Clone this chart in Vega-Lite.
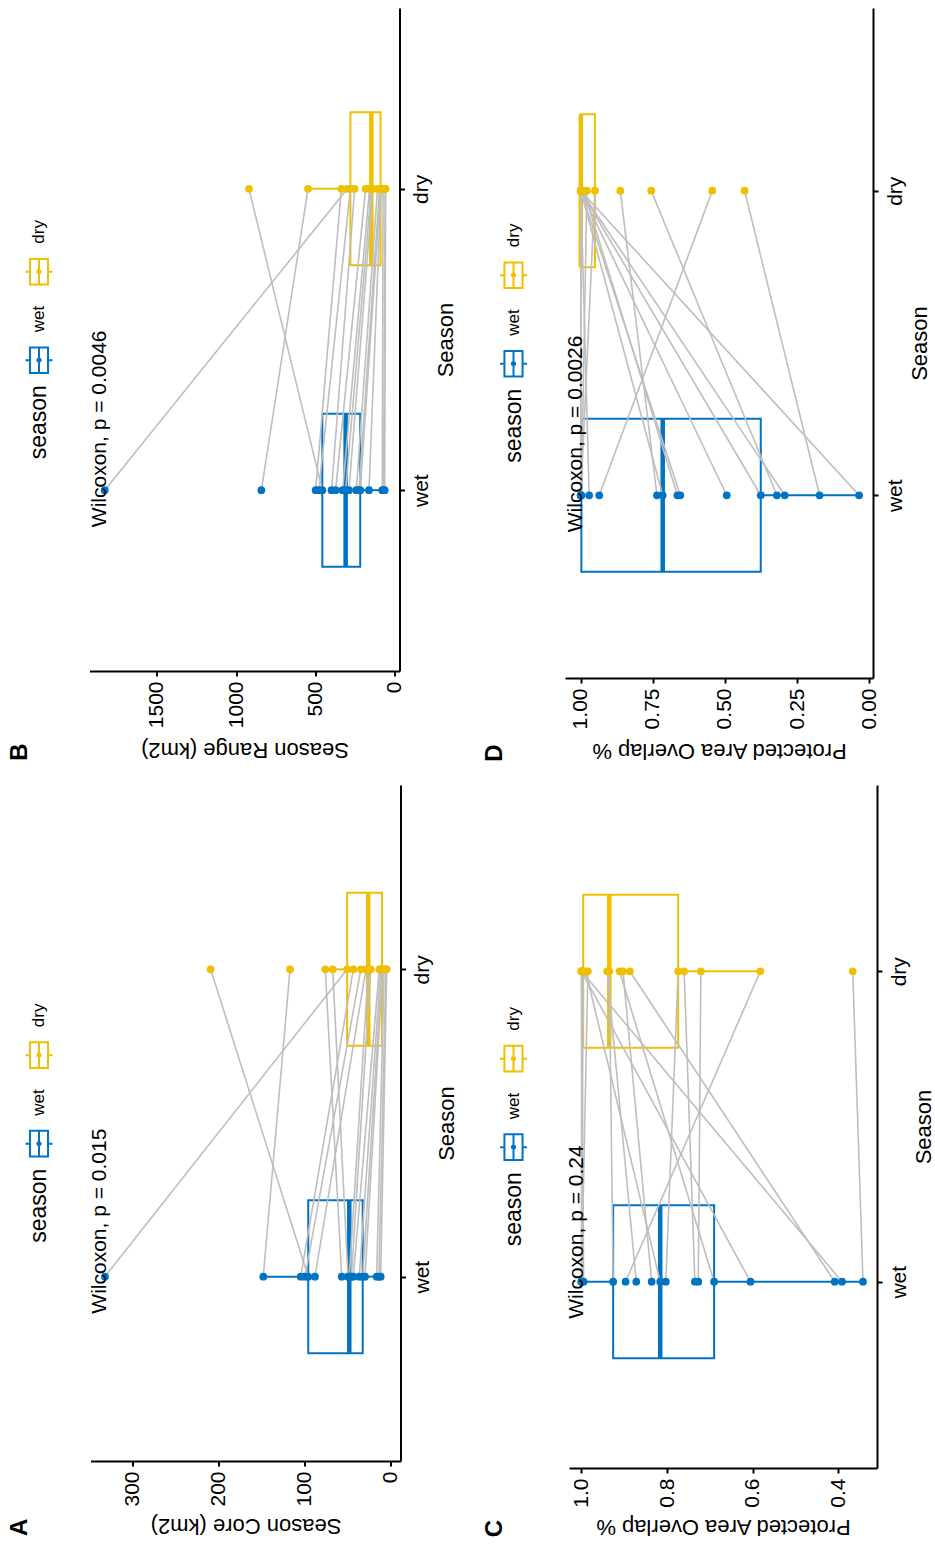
{
  "$schema": "https://vega.github.io/schema/vega-lite/v6.json",
  "background": "white",
  "padding": {"left": 7.5, "top": 8, "right": 0, "bottom": 0},
  "datasets": {
    "legend": [{"season": "dry"}, {"season": "wet"}],
    "legendTitle": [{"season": "wet", "title": "season"}],
    "A": [
      {"id": 1, "season": "wet", "value": 332.6}, {"id": 1, "season": "dry", "value": 51.0},
      {"id": 2, "season": "wet", "value": 148.5}, {"id": 2, "season": "dry", "value": 117.4},
      {"id": 3, "season": "wet", "value": 96.2}, {"id": 3, "season": "dry", "value": 209.7},
      {"id": 4, "season": "wet", "value": 57.3}, {"id": 4, "season": "dry", "value": 76.4},
      {"id": 5, "season": "wet", "value": 50.0}, {"id": 5, "season": "dry", "value": 67.8},
      {"id": 6, "season": "wet", "value": 105.0}, {"id": 6, "season": "dry", "value": 43.8},
      {"id": 7, "season": "wet", "value": 100.0}, {"id": 7, "season": "dry", "value": 35.0},
      {"id": 8, "season": "wet", "value": 88.4}, {"id": 8, "season": "dry", "value": 29.1},
      {"id": 9, "season": "wet", "value": 48.5}, {"id": 9, "season": "dry", "value": 26.4},
      {"id": 10, "season": "wet", "value": 46.0}, {"id": 10, "season": "dry", "value": 23.6},
      {"id": 11, "season": "wet", "value": 43.8}, {"id": 11, "season": "dry", "value": 13.6},
      {"id": 12, "season": "wet", "value": 36.9}, {"id": 12, "season": "dry", "value": 12.0},
      {"id": 13, "season": "wet", "value": 32.9}, {"id": 13, "season": "dry", "value": 10.5},
      {"id": 14, "season": "wet", "value": 30.2}, {"id": 14, "season": "dry", "value": 9.7},
      {"id": 15, "season": "wet", "value": 16.6}, {"id": 15, "season": "dry", "value": 8.0},
      {"id": 16, "season": "wet", "value": 14.0}, {"id": 16, "season": "dry", "value": 6.0},
      {"id": 17, "season": "wet", "value": 12.0}, {"id": 17, "season": "dry", "value": 5.0}
    ],
    "B": [
      {"id": 1, "season": "wet", "value": 1829}, {"id": 1, "season": "dry", "value": 300},
      {"id": 2, "season": "wet", "value": 842}, {"id": 2, "season": "dry", "value": 548},
      {"id": 3, "season": "wet", "value": 458}, {"id": 3, "season": "dry", "value": 920},
      {"id": 4, "season": "wet", "value": 500}, {"id": 4, "season": "dry", "value": 338},
      {"id": 5, "season": "wet", "value": 480}, {"id": 5, "season": "dry", "value": 281},
      {"id": 6, "season": "wet", "value": 400}, {"id": 6, "season": "dry", "value": 254},
      {"id": 7, "season": "wet", "value": 374}, {"id": 7, "season": "dry", "value": 185},
      {"id": 8, "season": "wet", "value": 330}, {"id": 8, "season": "dry", "value": 160},
      {"id": 9, "season": "wet", "value": 311}, {"id": 9, "season": "dry", "value": 149},
      {"id": 10, "season": "wet", "value": 290}, {"id": 10, "season": "dry", "value": 140},
      {"id": 11, "season": "wet", "value": 244}, {"id": 11, "season": "dry", "value": 110},
      {"id": 12, "season": "wet", "value": 227}, {"id": 12, "season": "dry", "value": 97},
      {"id": 13, "season": "wet", "value": 219}, {"id": 13, "season": "dry", "value": 91},
      {"id": 14, "season": "wet", "value": 164}, {"id": 14, "season": "dry", "value": 88},
      {"id": 15, "season": "wet", "value": 80}, {"id": 15, "season": "dry", "value": 75},
      {"id": 16, "season": "wet", "value": 72}, {"id": 16, "season": "dry", "value": 62},
      {"id": 17, "season": "wet", "value": 65}, {"id": 17, "season": "dry", "value": 59}
    ],
    "C": [
      {"id": 1, "season": "wet", "value": 0.342}, {"id": 1, "season": "dry", "value": 0.366},
      {"id": 2, "season": "wet", "value": 0.897}, {"id": 2, "season": "dry", "value": 0.582},
      {"id": 3, "season": "wet", "value": 0.727}, {"id": 3, "season": "dry", "value": 0.721},
      {"id": 4, "season": "wet", "value": 0.391}, {"id": 4, "season": "dry", "value": 1.0},
      {"id": 5, "season": "wet", "value": 0.408}, {"id": 5, "season": "dry", "value": 0.887},
      {"id": 6, "season": "wet", "value": 0.605}, {"id": 6, "season": "dry", "value": 1.0},
      {"id": 7, "season": "wet", "value": 0.735}, {"id": 7, "season": "dry", "value": 0.760},
      {"id": 8, "season": "wet", "value": 0.690}, {"id": 8, "season": "dry", "value": 0.911},
      {"id": 9, "season": "wet", "value": 0.803}, {"id": 9, "season": "dry", "value": 0.774},
      {"id": 10, "season": "wet", "value": 0.816}, {"id": 10, "season": "dry", "value": 0.990},
      {"id": 11, "season": "wet", "value": 0.836}, {"id": 11, "season": "dry", "value": 0.903},
      {"id": 12, "season": "wet", "value": 0.872}, {"id": 12, "season": "dry", "value": 0.940},
      {"id": 13, "season": "wet", "value": 0.926}, {"id": 13, "season": "dry", "value": 0.935},
      {"id": 14, "season": "wet", "value": 0.995}, {"id": 14, "season": "dry", "value": 1.0},
      {"id": 15, "season": "wet", "value": 1.0}, {"id": 15, "season": "dry", "value": 1.0},
      {"id": 16, "season": "wet", "value": 1.0}, {"id": 16, "season": "dry", "value": 0.985},
      {"id": 17, "season": "wet", "value": 1.0}, {"id": 17, "season": "dry", "value": 0.996}
    ],
    "D": [
      {"id": 1, "season": "wet", "value": 0.035}, {"id": 1, "season": "dry", "value": 1.0},
      {"id": 2, "season": "wet", "value": 0.172}, {"id": 2, "season": "dry", "value": 0.432},
      {"id": 3, "season": "wet", "value": 0.293}, {"id": 3, "season": "dry", "value": 1.0},
      {"id": 4, "season": "wet", "value": 0.320}, {"id": 4, "season": "dry", "value": 0.756},
      {"id": 5, "season": "wet", "value": 0.376}, {"id": 5, "season": "dry", "value": 1.0},
      {"id": 6, "season": "wet", "value": 0.494}, {"id": 6, "season": "dry", "value": 1.0},
      {"id": 7, "season": "wet", "value": 0.655}, {"id": 7, "season": "dry", "value": 1.0},
      {"id": 8, "season": "wet", "value": 0.665}, {"id": 8, "season": "dry", "value": 0.990},
      {"id": 9, "season": "wet", "value": 0.716}, {"id": 9, "season": "dry", "value": 1.0},
      {"id": 10, "season": "wet", "value": 0.736}, {"id": 10, "season": "dry", "value": 0.863},
      {"id": 11, "season": "wet", "value": 0.936}, {"id": 11, "season": "dry", "value": 0.544},
      {"id": 12, "season": "wet", "value": 0.971}, {"id": 12, "season": "dry", "value": 1.0},
      {"id": 13, "season": "wet", "value": 0.998}, {"id": 13, "season": "dry", "value": 0.979},
      {"id": 14, "season": "wet", "value": 1.0}, {"id": 14, "season": "dry", "value": 1.0},
      {"id": 15, "season": "wet", "value": 1.0}, {"id": 15, "season": "dry", "value": 0.951},
      {"id": 16, "season": "wet", "value": 1.0}, {"id": 16, "season": "dry", "value": 1.0},
      {"id": 17, "season": "wet", "value": 1.0}, {"id": 17, "season": "dry", "value": 1.0}
    ]
  },
  "columns": 2,
  "align": "each",
  "spacing": {"row": 23, "column": 24.5},
  "concat": [
    {
      "title": {"text": "B", "orient": "left", "anchor": "start", "frame": "bounds", "fontSize": 24, "fontWeight": "bold", "color": "black", "offset": -10.5},
      "spacing": 32,
      "hconcat": [
        {
          "width": 27, "height": 663,
          "layer": [
            {"data": {"name": "legend"}, "mark": {"type": "point", "shape": "M-1,0H-0.67M0.67,0H1M-0.67,-0.95H0.67V0.95H-0.67ZM0,-0.95V0.95M0.12,0A0.12,0.12,0,1,1,-0.12,0A0.12,0.12,0,1,1,0.12,0", "filled": false, "size": 729, "strokeWidth": 2, "opacity": 1},
              "encoding": {"y": {"field": "season", "type": "nominal", "scale": {"type": "point", "domain": ["dry", "wet"], "range": [263.7, 352.2], "padding": 0}, "axis": null},
                "stroke": {"field": "season", "type": "nominal", "scale": {"domain": ["dry", "wet"], "range": ["#EFC000", "#0073C2"]}, "legend": null}}},
            {"data": {"name": "legend"}, "mark": {"type": "text", "angle": 270, "align": "left", "baseline": "middle", "dx": 28, "fontSize": 17, "color": "black"},
              "encoding": {"y": {"field": "season", "type": "nominal", "axis": null}, "text": {"field": "season"}}},
            {"data": {"name": "legendTitle"}, "mark": {"type": "text", "angle": 270, "align": "right", "baseline": "middle", "dx": -25, "fontSize": 23, "color": "black"},
              "encoding": {"y": {"field": "season", "type": "nominal", "axis": null}, "text": {"field": "title"}}}
          ]
        },
        {
          "width": 310, "height": 663,
          "data": {"name": "B"},
          "encoding": {
            "x": {"field": "value", "type": "quantitative",
              "scale": {"domain": [-28.4, 1925], "reverse": true, "nice": false, "zero": false},
              "axis": {"orient": "bottom", "values": [0, 500, 1000, 1500], "format": "d", "labelAngle": 270, "labelAlign": "right", "labelBaseline": "middle", "labelPadding": 5, "title": "Season Range (km2)", "titleAngle": 180, "titleBaseline": "bottom", "titlePadding": 10}},
            "y": {"field": "season", "type": "nominal",
              "scale": {"type": "point", "domain": ["dry", "wet"], "padding": 0.6},
              "axis": {"orient": "right", "labelAngle": 270, "labelAlign": "center", "labelBaseline": "top", "labelPadding": 6, "title": "Season", "titleAngle": 270, "titleBaseline": "top", "titlePadding": 4}}
          },
          "layer": [
            {"transform": [{"filter": "datum.season === 'wet'"}], "mark": {"type": "boxplot", "extent": 1.5, "size": 153, "outliers": false, "box": {"fill": "transparent", "stroke": "#0073C2", "strokeWidth": 2}, "median": {"color": "#0073C2", "thickness": 4.5, "opacity": 1}, "rule": {"color": "#0073C2", "strokeWidth": 2}}},
            {"transform": [{"filter": "datum.season === 'dry'"}], "mark": {"type": "boxplot", "extent": 1.5, "size": 153, "outliers": false, "box": {"fill": "transparent", "stroke": "#EFC000", "strokeWidth": 2}, "median": {"color": "#EFC000", "thickness": 4.5, "opacity": 1}, "rule": {"color": "#EFC000", "strokeWidth": 2}}},
            {"mark": {"type": "line", "color": "#BEBEBE", "strokeWidth": 1.6}, "encoding": {"detail": {"field": "id", "type": "nominal"}}},
            {"mark": {"type": "point", "filled": true, "opacity": 1, "size": 60},
              "encoding": {"color": {"field": "season", "type": "nominal", "scale": {"domain": ["dry", "wet"], "range": ["#EFC000", "#0073C2"]}, "legend": null}}},
            {"data": {"values": [{"label": "Wilcoxon, p = 0.0046", "season": "wet", "value": 1829}]},
              "mark": {"type": "text", "angle": 270, "align": "left", "baseline": "alphabetic", "dx": -37, "dy": 1.5, "fontSize": 21, "color": "black"},
              "encoding": {"text": {"field": "label"}}}
          ]
        }
      ]
    },
    {
      "title": {"text": "D", "orient": "left", "anchor": "start", "frame": "bounds", "fontSize": 24, "fontWeight": "bold", "color": "black", "offset": -10.5},
      "spacing": 34,
      "hconcat": [
        {
          "width": 27, "height": 670,
          "layer": [
            {"data": {"name": "legend"}, "mark": {"type": "point", "shape": "M-1,0H-0.67M0.67,0H1M-0.67,-0.95H0.67V0.95H-0.67ZM0,-0.95V0.95M0.12,0A0.12,0.12,0,1,1,-0.12,0A0.12,0.12,0,1,1,0.12,0", "filled": false, "size": 729, "strokeWidth": 2, "opacity": 1},
              "encoding": {"y": {"field": "season", "type": "nominal", "scale": {"type": "point", "domain": ["dry", "wet"], "range": [267.2, 355.7], "padding": 0}, "axis": null},
                "stroke": {"field": "season", "type": "nominal", "scale": {"domain": ["dry", "wet"], "range": ["#EFC000", "#0073C2"]}, "legend": null}}},
            {"data": {"name": "legend"}, "mark": {"type": "text", "angle": 270, "align": "left", "baseline": "middle", "dx": 28, "fontSize": 17, "color": "black"},
              "encoding": {"y": {"field": "season", "type": "nominal", "axis": null}, "text": {"field": "season"}}},
            {"data": {"name": "legendTitle"}, "mark": {"type": "text", "angle": 270, "align": "right", "baseline": "middle", "dx": -25, "fontSize": 23, "color": "black"},
              "encoding": {"y": {"field": "season", "type": "nominal", "axis": null}, "text": {"field": "title"}}}
          ]
        },
        {
          "width": 308, "height": 670,
          "data": {"name": "D"},
          "encoding": {
            "x": {"field": "value", "type": "quantitative",
              "scale": {"domain": [-0.0132, 1.0548], "reverse": true, "nice": false, "zero": false},
              "axis": {"orient": "bottom", "values": [0, 0.25, 0.5, 0.75, 1.0], "format": ".2f", "labelAngle": 270, "labelAlign": "right", "labelBaseline": "middle", "labelPadding": 5, "title": "Protected Area Overlap %", "titleAngle": 180, "titleBaseline": "bottom", "titlePadding": 10}},
            "y": {"field": "season", "type": "nominal",
              "scale": {"type": "point", "domain": ["dry", "wet"], "padding": 0.6},
              "axis": {"orient": "right", "labelAngle": 270, "labelAlign": "center", "labelBaseline": "top", "labelPadding": 6, "title": "Season", "titleAngle": 270, "titleBaseline": "top", "titlePadding": 4}}
          },
          "layer": [
            {"transform": [{"filter": "datum.season === 'wet'"}], "mark": {"type": "boxplot", "extent": 1.5, "size": 153, "outliers": false, "box": {"fill": "transparent", "stroke": "#0073C2", "strokeWidth": 2}, "median": {"color": "#0073C2", "thickness": 4.5, "opacity": 1}, "rule": {"color": "#0073C2", "strokeWidth": 2}}},
            {"transform": [{"filter": "datum.season === 'dry'"}], "mark": {"type": "boxplot", "extent": 1.5, "size": 153, "outliers": false, "box": {"fill": "transparent", "stroke": "#EFC000", "strokeWidth": 2}, "median": {"color": "#EFC000", "thickness": 4.5, "opacity": 1}, "rule": {"color": "#EFC000", "strokeWidth": 2}}},
            {"mark": {"type": "line", "color": "#BEBEBE", "strokeWidth": 1.6}, "encoding": {"detail": {"field": "id", "type": "nominal"}}},
            {"mark": {"type": "point", "filled": true, "opacity": 1, "size": 60},
              "encoding": {"color": {"field": "season", "type": "nominal", "scale": {"domain": ["dry", "wet"], "range": ["#EFC000", "#0073C2"]}, "legend": null}}},
            {"data": {"values": [{"label": "Wilcoxon, p = 0.0026", "season": "wet", "value": 1.0}]},
              "mark": {"type": "text", "angle": 270, "align": "left", "baseline": "alphabetic", "dx": -37, "dy": 1.5, "fontSize": 21, "color": "black"},
              "encoding": {"text": {"field": "label"}}}
          ]
        }
      ]
    },
    {
      "title": {"text": "A", "orient": "left", "anchor": "start", "frame": "bounds", "fontSize": 24, "fontWeight": "bold", "color": "black", "offset": -10.5},
      "spacing": 32,
      "hconcat": [
        {
          "width": 27, "height": 676,
          "layer": [
            {"data": {"name": "legend"}, "mark": {"type": "point", "shape": "M-1,0H-0.67M0.67,0H1M-0.67,-0.95H0.67V0.95H-0.67ZM0,-0.95V0.95M0.12,0A0.12,0.12,0,1,1,-0.12,0A0.12,0.12,0,1,1,0.12,0", "filled": false, "size": 729, "strokeWidth": 2, "opacity": 1},
              "encoding": {"y": {"field": "season", "type": "nominal", "scale": {"type": "point", "domain": ["dry", "wet"], "range": [270.2, 358.7], "padding": 0}, "axis": null},
                "stroke": {"field": "season", "type": "nominal", "scale": {"domain": ["dry", "wet"], "range": ["#EFC000", "#0073C2"]}, "legend": null}}},
            {"data": {"name": "legend"}, "mark": {"type": "text", "angle": 270, "align": "left", "baseline": "middle", "dx": 28, "fontSize": 17, "color": "black"},
              "encoding": {"y": {"field": "season", "type": "nominal", "axis": null}, "text": {"field": "season"}}},
            {"data": {"name": "legendTitle"}, "mark": {"type": "text", "angle": 270, "align": "right", "baseline": "middle", "dx": -25, "fontSize": 23, "color": "black"},
              "encoding": {"y": {"field": "season", "type": "nominal", "axis": null}, "text": {"field": "title"}}}
          ]
        },
        {
          "width": 310, "height": 676,
          "data": {"name": "A"},
          "encoding": {
            "x": {"field": "value", "type": "quantitative",
              "scale": {"domain": [-11.05, 349.4], "reverse": true, "nice": false, "zero": false},
              "axis": {"orient": "bottom", "values": [0, 100, 200, 300], "format": "d", "labelAngle": 270, "labelAlign": "right", "labelBaseline": "middle", "labelPadding": 5, "title": "Season Core (km2)", "titleAngle": 180, "titleBaseline": "bottom", "titlePadding": 7}},
            "y": {"field": "season", "type": "nominal",
              "scale": {"type": "point", "domain": ["dry", "wet"], "padding": 0.6},
              "axis": {"orient": "right", "labelAngle": 270, "labelAlign": "center", "labelBaseline": "top", "labelPadding": 6, "title": "Season", "titleAngle": 270, "titleBaseline": "top", "titlePadding": 4}}
          },
          "layer": [
            {"transform": [{"filter": "datum.season === 'wet'"}], "mark": {"type": "boxplot", "extent": 1.5, "size": 153, "outliers": false, "box": {"fill": "transparent", "stroke": "#0073C2", "strokeWidth": 2}, "median": {"color": "#0073C2", "thickness": 4.5, "opacity": 1}, "rule": {"color": "#0073C2", "strokeWidth": 2}}},
            {"transform": [{"filter": "datum.season === 'dry'"}], "mark": {"type": "boxplot", "extent": 1.5, "size": 153, "outliers": false, "box": {"fill": "transparent", "stroke": "#EFC000", "strokeWidth": 2}, "median": {"color": "#EFC000", "thickness": 4.5, "opacity": 1}, "rule": {"color": "#EFC000", "strokeWidth": 2}}},
            {"mark": {"type": "line", "color": "#BEBEBE", "strokeWidth": 1.6}, "encoding": {"detail": {"field": "id", "type": "nominal"}}},
            {"mark": {"type": "point", "filled": true, "opacity": 1, "size": 60},
              "encoding": {"color": {"field": "season", "type": "nominal", "scale": {"domain": ["dry", "wet"], "range": ["#EFC000", "#0073C2"]}, "legend": null}}},
            {"data": {"values": [{"label": "Wilcoxon, p = 0.015", "season": "wet", "value": 332.6}]},
              "mark": {"type": "text", "angle": 270, "align": "left", "baseline": "alphabetic", "dx": -37, "dy": 1.5, "fontSize": 21, "color": "black"},
              "encoding": {"text": {"field": "label"}}}
          ]
        }
      ]
    },
    {
      "title": {"text": "C", "orient": "left", "anchor": "start", "frame": "bounds", "fontSize": 24, "fontWeight": "bold", "color": "black", "offset": -10.5},
      "spacing": 34,
      "hconcat": [
        {
          "width": 27, "height": 683,
          "layer": [
            {"data": {"name": "legend"}, "mark": {"type": "point", "shape": "M-1,0H-0.67M0.67,0H1M-0.67,-0.95H0.67V0.95H-0.67ZM0,-0.95V0.95M0.12,0A0.12,0.12,0,1,1,-0.12,0A0.12,0.12,0,1,1,0.12,0", "filled": false, "size": 729, "strokeWidth": 2, "opacity": 1},
              "encoding": {"y": {"field": "season", "type": "nominal", "scale": {"type": "point", "domain": ["dry", "wet"], "range": [273.7, 362.2], "padding": 0}, "axis": null},
                "stroke": {"field": "season", "type": "nominal", "scale": {"domain": ["dry", "wet"], "range": ["#EFC000", "#0073C2"]}, "legend": null}}},
            {"data": {"name": "legend"}, "mark": {"type": "text", "angle": 270, "align": "left", "baseline": "middle", "dx": 28, "fontSize": 17, "color": "black"},
              "encoding": {"y": {"field": "season", "type": "nominal", "axis": null}, "text": {"field": "season"}}},
            {"data": {"name": "legendTitle"}, "mark": {"type": "text", "angle": 270, "align": "right", "baseline": "middle", "dx": -25, "fontSize": 23, "color": "black"},
              "encoding": {"y": {"field": "season", "type": "nominal", "axis": null}, "text": {"field": "title"}}}
          ]
        },
        {
          "width": 308, "height": 683,
          "data": {"name": "C"},
          "encoding": {
            "x": {"field": "value", "type": "quantitative",
              "scale": {"domain": [0.3093, 1.0292], "reverse": true, "nice": false, "zero": false},
              "axis": {"orient": "bottom", "values": [0.4, 0.6, 0.8, 1.0], "format": ".1f", "labelAngle": 270, "labelAlign": "right", "labelBaseline": "middle", "labelPadding": 5, "title": "Protected Area Overlap %", "titleAngle": 180, "titleBaseline": "bottom", "titlePadding": 7}},
            "y": {"field": "season", "type": "nominal",
              "scale": {"type": "point", "domain": ["dry", "wet"], "padding": 0.6},
              "axis": {"orient": "right", "labelAngle": 270, "labelAlign": "center", "labelBaseline": "top", "labelPadding": 6, "title": "Season", "titleAngle": 270, "titleBaseline": "top", "titlePadding": 4}}
          },
          "layer": [
            {"transform": [{"filter": "datum.season === 'wet'"}], "mark": {"type": "boxplot", "extent": 1.5, "size": 153, "outliers": false, "box": {"fill": "transparent", "stroke": "#0073C2", "strokeWidth": 2}, "median": {"color": "#0073C2", "thickness": 4.5, "opacity": 1}, "rule": {"color": "#0073C2", "strokeWidth": 2}}},
            {"transform": [{"filter": "datum.season === 'dry'"}], "mark": {"type": "boxplot", "extent": 1.5, "size": 153, "outliers": false, "box": {"fill": "transparent", "stroke": "#EFC000", "strokeWidth": 2}, "median": {"color": "#EFC000", "thickness": 4.5, "opacity": 1}, "rule": {"color": "#EFC000", "strokeWidth": 2}}},
            {"mark": {"type": "line", "color": "#BEBEBE", "strokeWidth": 1.6}, "encoding": {"detail": {"field": "id", "type": "nominal"}}},
            {"mark": {"type": "point", "filled": true, "opacity": 1, "size": 60},
              "encoding": {"color": {"field": "season", "type": "nominal", "scale": {"domain": ["dry", "wet"], "range": ["#EFC000", "#0073C2"]}, "legend": null}}},
            {"data": {"values": [{"label": "Wilcoxon, p = 0.24", "season": "wet", "value": 1.0}]},
              "mark": {"type": "text", "angle": 270, "align": "left", "baseline": "alphabetic", "dx": -37, "dy": 1.5, "fontSize": 21, "color": "black"},
              "encoding": {"text": {"field": "label"}}}
          ]
        }
      ]
    }
  ],
  "config": {
    "font": "Liberation Sans",
    "view": {"stroke": null},
    "axis": {"grid": false, "domainColor": "black", "domainWidth": 2, "tickColor": "black", "tickWidth": 2, "tickSize": 5, "labelFontSize": 21, "labelColor": "black", "labelFont": "Liberation Sans", "titleFont": "Liberation Sans", "titleFontSize": 22, "titleFontWeight": "normal", "titleColor": "black", "labelFlush": false, "labelOverlap": false},
    "title": {"font": "Liberation Sans"}
  }
}
